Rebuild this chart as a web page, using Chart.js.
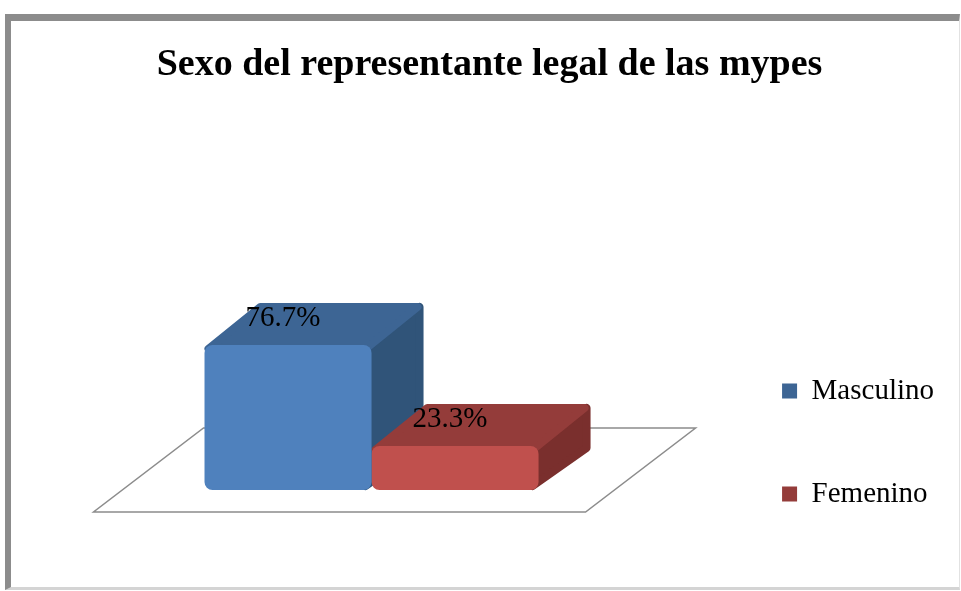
<!DOCTYPE html>
<html>
<head>
<meta charset="utf-8">
<title>Sexo del representante legal de las mypes</title>
<script src="https://cdn.jsdelivr.net/npm/chart.js@4.4.1/dist/chart.umd.min.js"></script>
<style>
	body { margin: 0; background: #fff; width: 961px; height: 591px; overflow: hidden; }
	#frame {
		position: absolute; left: 5px; top: 14px; width: 948px; height: 566px;
		border-top: 7px solid #8c8c8c; border-left: 6px solid #8c8c8c;
		border-right: 1px solid #e2e2e2; border-bottom: 3px solid #d4d4d4;
	}
	#chart { position: absolute; left: 0; top: 0; }
</style>
</head>
<body>
<div id="frame"></div>
<canvas id="chart" width="961" height="591"></canvas>
<script>
// data
const chart_title = "Sexo del representante legal de las mypes";
const categories = [""];
const series_names = ["Masculino", "Femenino"];
const series_values = [76.7, 23.3];

// colours: front, top, side
const front_colors = ["#4f81bd", "#c0504d"];
const top_colors = ["#3d6594", "#943c3a"];
const side_colors = ["#305479", "#7a2f2d"];

const depth_x = 52, depth_y = -42;

// floor + top/side faces, drawn before the front faces
const box3d = {
	id: "box3d",
	beforeDatasetsDraw(chart) {
		const ctx = chart.ctx;
		const first = chart.getDatasetMeta(0).data[0];
		const last = chart.getDatasetMeta(chart.data.datasets.length - 1).data[0];
		const left = first.x - first.width / 2;
		const right = last.x + last.width / 2;
		const base = first.base;

		ctx.save();
		ctx.beginPath();
		ctx.moveTo(left - 111, base + 22);
		ctx.lineTo(right + 47, base + 22);
		ctx.lineTo(right + 157, base - 62);
		ctx.lineTo(left - 1, base - 62);
		ctx.closePath();
		ctx.fillStyle = "#fff";
		ctx.fill();
		ctx.strokeStyle = "#8c8c8c";
		ctx.lineWidth = 1.5;
		ctx.stroke();

		chart.data.datasets.forEach((ds, i) => {
			const bar = chart.getDatasetMeta(i).data[0];
			const l = bar.x - bar.width / 2, r = bar.x + bar.width / 2;
			const t = bar.y, b = bar.base;
			ctx.lineJoin = "round";
			ctx.lineWidth = 8;
			// side
			ctx.beginPath();
			ctx.moveTo(r - 6, t + 4);
			ctx.lineTo(r + depth_x - 4, t + depth_y + 4);
			ctx.lineTo(r + depth_x - 4, b + depth_y);
			ctx.lineTo(r - 6, b - 4);
			ctx.closePath();
			ctx.fillStyle = side_colors[i];
			ctx.strokeStyle = side_colors[i];
			ctx.fill();
			ctx.stroke();
			// top
			ctx.beginPath();
			ctx.moveTo(l + 4, t + 4);
			ctx.lineTo(r - 6, t + 4);
			ctx.lineTo(r + depth_x - 6, t + depth_y + 4);
			ctx.lineTo(l + depth_x + 4, t + depth_y + 4);
			ctx.closePath();
			ctx.fillStyle = top_colors[i];
			ctx.strokeStyle = top_colors[i];
			ctx.fill();
			ctx.stroke();
		});
		ctx.restore();
	},
	afterDatasetsDraw(chart) {
		const ctx = chart.ctx;
		ctx.save();
		ctx.font = "29px 'Liberation Serif'";
		ctx.fillStyle = "#000";
		ctx.textAlign = "center";
		ctx.textBaseline = "middle";
		chart.data.datasets.forEach((ds, i) => {
			const bar = chart.getDatasetMeta(i).data[0];
			ctx.fillText(ds.data[0].toFixed(1) + "%", bar.x - 5, bar.y - 27);
		});
		ctx.restore();
	}
};

const ctx = document.getElementById("chart").getContext("2d");

let my_chart = new Chart(ctx, {
	type: "bar",
	data: {
		labels: categories,
		datasets: series_names.map((name, i) => ({
			label: name,
			data: [series_values[i]],
			backgroundColor: front_colors[i],
			borderWidth: 0,
			borderRadius: 8,
			borderSkipped: false,
			barPercentage: 1,
			categoryPercentage: 0.4963,
		})),
	},
	options: {
		responsive: false,
		animation: false,
		layout: {
			padding: { left: 35, right: 17, top: 0, bottom: 8.5 },
		},
		scales: {
			x: {
				grid: { display: false },
				border: { display: false },
				ticks: { display: false },
				afterFit: (axis) => { axis.height = 92.5; },
			},
			y: {
				display: false,
				min: 0,
				max: 120,
			},
		},
		plugins: {
			title: {
				display: true,
				text: chart_title,
				color: "#000",
				font: { family: "'Liberation Serif'", size: 38, weight: "bold", lineHeight: 1.2 },
				padding: { top: 42, bottom: 175.5 },
			},
			legend: {
				position: "right",
				align: "end",
				labels: {
					color: "#000",
					font: { family: "'Liberation Serif'", size: 29 },
					boxWidth: 15,
					boxHeight: 15,
					padding: 74,
					generateLabels(chart) {
						const items = Chart.defaults.plugins.legend.labels.generateLabels(chart);
						items.forEach((it, i) => {
							it.fillStyle = top_colors[i];
							it.strokeStyle = top_colors[i];
							it.lineWidth = 0;
						});
						return items;
					},
				},
			},
			tooltip: { enabled: false },
		},
	},
	plugins: [box3d],
});
</script>
</body>
</html>
